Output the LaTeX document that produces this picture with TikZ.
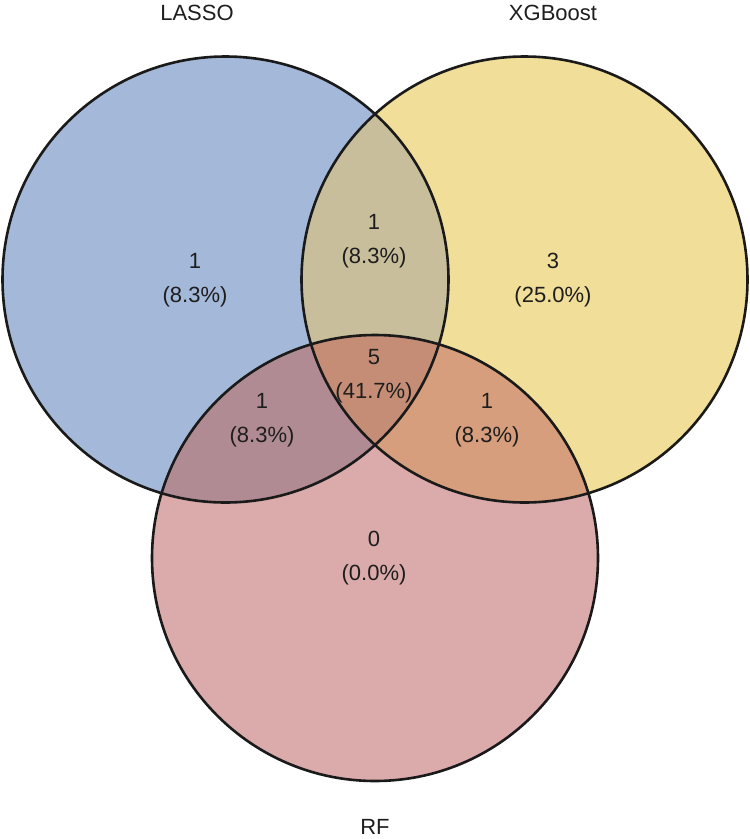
\documentclass[tikz,border=0pt]{standalone}
\usepackage{fontspec}
\setmainfont{Liberation Sans}
\definecolor{cLasso}{HTML}{A4B9D9}
\definecolor{cXgb}{HTML}{F0DE99}
\definecolor{cRf}{HTML}{DBAAAA}
\definecolor{cLX}{HTML}{C8BE9C}
\definecolor{cLR}{HTML}{B18B94}
\definecolor{cXR}{HTML}{D69E7C}
\definecolor{cLXR}{HTML}{C58D76}
\definecolor{edge}{HTML}{1A1A1A}
\definecolor{txt}{HTML}{1E1E1E}
\begin{document}
\begin{tikzpicture}[x=1pt,y=-1pt,
  num/.style={font=\fontsize{22}{34}\selectfont, text=txt, align=center, inner sep=0pt},
  cat/.style={font=\fontsize{22}{26}\selectfont, text=txt, inner sep=0pt},
  ring/.style={draw=edge, line width=2.6pt}]
\useasboundingbox (0,0) rectangle (750,839);
\coordinate (cL) at (225.5,279.5);
\coordinate (cX) at (524.5,279.5);
\coordinate (cR) at (375,558);
\def\rad{223pt}
% base fills
\fill[cLasso] (cL) circle[radius=\rad];
\fill[cXgb] (cX) circle[radius=\rad];
\fill[cRf] (cR) circle[radius=\rad];
% pairwise overlaps
\begin{scope}
  \clip (cL) circle[radius=\rad];
  \fill[cLX] (cX) circle[radius=\rad];
  \fill[cLR] (cR) circle[radius=\rad];
\end{scope}
\begin{scope}
  \clip (cX) circle[radius=\rad];
  \fill[cXR] (cR) circle[radius=\rad];
\end{scope}
% triple overlap
\begin{scope}
  \clip (cL) circle[radius=\rad];
  \clip (cX) circle[radius=\rad];
  \fill[cLXR] (cR) circle[radius=\rad];
\end{scope}
% outlines
\draw[ring] (cL) circle[radius=\rad];
\draw[ring] (cX) circle[radius=\rad];
\draw[ring] (cR) circle[radius=\rad];
% region labels
\node[num] (nL) at (195,280) {1\\(8.3\%)};
\node[num] (nX) at (553,280) {3\\(25.0\%)};
\node[num] (nLX) at (374,241.5) {1\\(8.3\%)};
\node[num] (nLXR) at (374,376) {5\\(41.7\%)};
\node[num] (nLR) at (262,420) {1\\(8.3\%)};
\node[num] (nXR) at (487,420) {1\\(8.3\%)};
\node[num] (nR) at (374,558) {0\\(0.0\%)};
% category labels
\node[cat] (tL) at (197,13) {LASSO};
\node[cat] (tX) at (553,13) {XGBoost};
\node[cat] (tR) at (375,827) {RF};
\end{tikzpicture}
\end{document}
